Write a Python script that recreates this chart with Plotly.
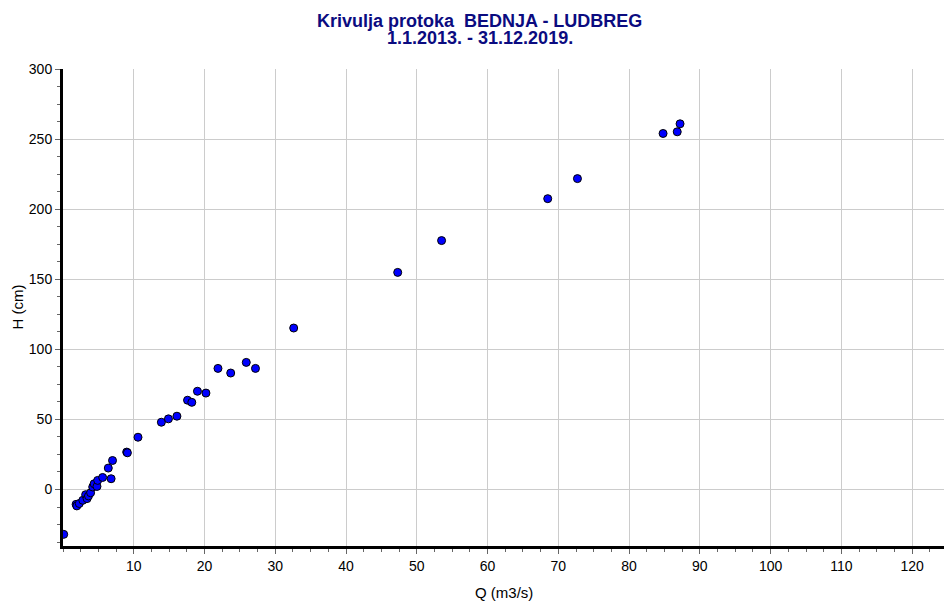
import plotly.graph_objects as go

Q = [0.1, 1.85, 1.95, 2.3, 2.8, 3.2, 3.4, 3.6, 3.9, 4.2, 4.4, 4.8, 4.9, 5.6, 6.4, 6.8, 7.0,
     9.0, 9.1, 10.6, 13.9, 14.9, 16.1, 17.6, 18.2, 19.0, 20.2, 21.9, 23.7, 25.9, 27.2,
     32.6, 47.3, 53.5, 68.5, 72.7, 84.8, 86.8, 87.2]
H = [-32, -10.6, -11.7, -10, -7.7, -3.7, -6.5, -4.6, -2.3, 1.8, 4.1, 2.2, 6.5, 8.6, 15.3, 7.7, 20.7,
     26.7, 26.2, 37.3, 48, 50.4, 52.3, 63.7, 62.2, 70.1, 68.8, 86.4, 83.1, 90.7, 86.4,
     115.2, 154.9, 177.6, 207.5, 221.8, 254, 255.2, 260.9]

x_ticks = [10, 20, 30, 40, 50, 60, 70, 80, 90, 100, 110, 120]
y_ticks = [0, 50, 100, 150, 200, 250, 300]
y_grid = [0, 50, 100, 150, 200, 250]

title_line1 = "Krivulja protoka  BEDNJA - LUDBREG"
title_line2 = "1.1.2013. - 31.12.2019."
x_title = "Q (m3/s)"
y_title = "H (cm)"

FONT = "Liberation Sans, Arial, sans-serif"
NAVY = "#0B0B80"
Y_RANGE = [-40.3, 300]
X_RANGE = [0, 124.5]

L, T, B = 63, 69, 55
W, HGT = 944, 601
PW = W - L
PH = HGT - T - B


def px_x(p):
    return (p - L) / PW


def px_y(p):
    return 1 + (T - p) / PH


fig = go.Figure()
# data on the primary axes (which carries the horizontal grid lines)
fig.add_trace(go.Scatter(
    x=Q, y=H, mode="markers",
    marker=dict(size=8, color="#0000FF", line=dict(color="black", width=1)),
    showlegend=False, hoverinfo="x+y",
))
# empty trace to register the labelled overlay y axis
fig.add_trace(go.Scatter(x=[], y=[], yaxis="y2", mode="markers",
                         showlegend=False, hoverinfo="skip"))

fig.update_layout(
    width=W, height=HGT,
    margin=dict(l=L, r=0, t=T, b=B),
    paper_bgcolor="white", plot_bgcolor="white",
    font=dict(family=FONT, size=14, color="black"),
    annotations=[
        dict(text="<b>" + title_line1 + "</b>", xref="paper", yref="paper",
             x=px_x(479.5), y=px_y(21.5), xanchor="center", yanchor="middle",
             showarrow=False, font=dict(family=FONT, size=18, color=NAVY)),
        dict(text="<b>" + title_line2 + "</b>", xref="paper", yref="paper",
             x=px_x(479.5), y=px_y(38), xanchor="center", yanchor="middle",
             showarrow=False, font=dict(family=FONT, size=18, color=NAVY)),
        dict(text=x_title, xref="paper", yref="paper",
             x=0.5, y=px_y(592), xanchor="center", yanchor="middle",
             showarrow=False, font=dict(family=FONT, size=15, color="black")),
        dict(text=y_title, xref="paper", yref="paper", textangle=-90,
             x=px_x(17), y=0.5, xanchor="center", yanchor="middle",
             showarrow=False, font=dict(family=FONT, size=15, color="black")),
    ],
    xaxis=dict(
        range=X_RANGE, tickvals=x_ticks, ticktext=[str(v) for v in x_ticks],
        showgrid=True, gridcolor="#CCCCCC", gridwidth=1, zeroline=False,
        showline=True, linecolor="black", linewidth=3, mirror=False,
        ticks="outside", ticklen=5, tickcolor="#666666", tickwidth=1,
        tickfont=dict(size=14),
        minor=dict(dtick=2.5, tick0=0, ticks="outside", ticklen=3, tickcolor="#666666", showgrid=False),
    ),
    yaxis=dict(
        range=Y_RANGE, tickvals=y_grid, showticklabels=False,
        showgrid=True, gridcolor="#CCCCCC", gridwidth=1, zeroline=False,
        showline=False, ticks="",
    ),
    yaxis2=dict(
        range=Y_RANGE, overlaying="y", side="left",
        tickvals=y_ticks, ticktext=[str(v) for v in y_ticks],
        showgrid=False, zeroline=False,
        showline=True, linecolor="black", linewidth=3, mirror=False,
        ticks="outside", ticklen=5, tickcolor="#666666", tickwidth=1,
        tickfont=dict(size=14),
        minor=dict(dtick=12.5, tick0=0, ticks="outside", ticklen=3, tickcolor="#666666", showgrid=False),
    ),
)

fig.write_html("out.html", config={"displayModeBar": False})

with open("out.html", "r", encoding="utf-8") as f:
    html = f.read()
html = html.replace("<body>", '<body style="margin:0;padding:0;overflow:hidden">', 1)
with open("out.html", "w", encoding="utf-8") as f:
    f.write(html)
